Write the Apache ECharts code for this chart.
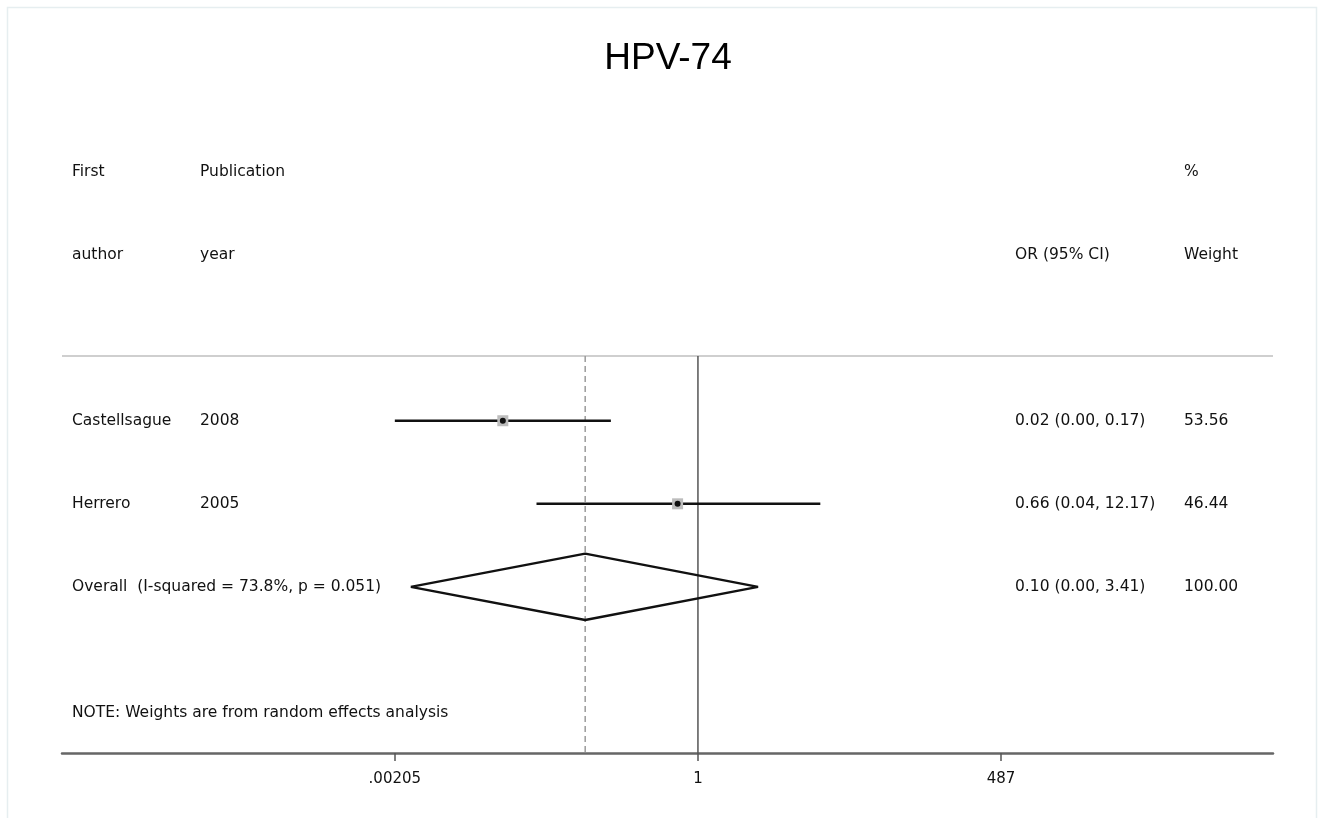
<!DOCTYPE html>
<html>
<head>
<meta charset="utf-8">
<title>HPV-74</title>
<script src="https://cdn.jsdelivr.net/npm/echarts@6/dist/echarts.min.js"></script>
<style>
  html, body { margin: 0; padding: 0; background: #fff; }
  #chart { width: 1322px; height: 818px; }
</style>
</head>
<body>
<div id="chart"></div>
<script>
// study rows
var authors = ["Castellsague", "Herrero"];
var years = ["2008", "2005"];
var orEst = [0.0186, 0.66];
var ciLow = [0.00205, 0.037];
var ciHigh = [0.169, 12.17];
var orText = ["0.02 (0.00, 0.17)", "0.66 (0.04, 12.17)"];
var weights = ["53.56", "46.44"];

// pooled estimate
var overallLabel = "Overall  (I-squared = 73.8%, p = 0.051)";
var overallEst = 0.10;
var overallLow = 0.00284;
var overallHigh = 3.41;
var overallText = "0.10 (0.00, 3.41)";
var overallWeight = "100.00";

// x axis ticks (odds ratio, log scale)
var tickValues = [0.00205, 1, 487];
var tickLabels = [".00205", "1", "487"];

var headerRow1 = ["First", "Publication", "", "%"];
var headerRow2 = ["author", "year", "OR (95% CI)", "Weight"];
var noteText = "NOTE: Weights are from random effects analysis";

// layout (pixel columns on the helper axis, rows on the y axis)
var colX = [72, 200, 1015, 1184];
var topLineY = 0.22;
var diamondHalf = 0.4;

var lg = function (v) { return Math.log10(v); };
var xMin = -5.64, xMax = 5.10;
var font = "DejaVu Sans";

var textSeries = function (items) {
  return {
    type: "scatter",
    xAxisIndex: 1,
    symbolSize: 0,
    silent: true,
    itemStyle: { opacity: 1 },
    data: items.map(function (it) { return { value: [it[0], it[1]], name: it[2] }; }),
    label: {
      show: true,
      position: "right",
      distance: 0,
      formatter: "{b}",
      color: "#111",
      fontFamily: font,
      fontSize: 15.5
    },
    z: 5
  };
};

var textItems = [];
headerRow1.forEach(function (t, i) { if (t) textItems.push([colX[i], -2, t]); });
headerRow2.forEach(function (t, i) { textItems.push([colX[i], -1, t]); });
authors.forEach(function (a, i) {
  textItems.push([colX[0], i + 1, a]);
  textItems.push([colX[1], i + 1, years[i]]);
  textItems.push([colX[2], i + 1, orText[i]]);
  textItems.push([colX[3], i + 1, weights[i]]);
});
var overallRow = authors.length + 1;
textItems.push([colX[0], overallRow, overallLabel]);
textItems.push([colX[2], overallRow, overallText]);
textItems.push([colX[3], overallRow, overallWeight]);
textItems.push([colX[0], 4.52, noteText]);

var series = [];
var lineSeries = function (pts, color, width, type, z) {
  return {
    type: "line",
    data: pts,
    symbol: "none",
    silent: true,
    lineStyle: { color: color, width: width, type: type || "solid" },
    z: z || 2
  };
};

// top rule
series.push(lineSeries([[xMin, topLineY], [xMax, topLineY]], "#cfcfcf", 2));
// null line at OR = 1
series.push(lineSeries([[lg(1), topLineY], [lg(1), 5]], "#555", 1.5, "solid", 3));
// dashed line at pooled estimate
series.push(lineSeries([[lg(overallEst), topLineY], [lg(overallEst), 5]], "#9a9a9a", 1.5, [6, 4], 3));

// confidence intervals
authors.forEach(function (a, i) {
  series.push(lineSeries([[lg(ciLow[i]), i + 1], [lg(ciHigh[i]), i + 1]], "#111", 2.5, "solid", 4));
});
// weight boxes and point estimates
series.push({
  type: "scatter",
  symbol: "rect",
  symbolSize: 11,
  silent: true,
  itemStyle: { color: "#bdbdbd", opacity: 1 },
  data: orEst.map(function (v, i) { return [lg(v), i + 1]; }),
  z: 5
});
series.push({
  type: "scatter",
  symbol: "circle",
  symbolSize: 6,
  silent: true,
  itemStyle: { color: "#111", opacity: 1 },
  data: orEst.map(function (v, i) { return [lg(v), i + 1]; }),
  z: 6
});
// pooled diamond
series.push(lineSeries([
  [lg(overallLow), overallRow],
  [lg(overallEst), overallRow - diamondHalf],
  [lg(overallHigh), overallRow],
  [lg(overallEst), overallRow + diamondHalf],
  [lg(overallLow), overallRow]
], "#111", 2.5, "solid", 4));

series.push(textSeries(textItems));

var chart = echarts.init(document.getElementById("chart"));
chart.setOption({
  backgroundColor: "#fff",
  animation: false,
  title: {
    text: "HPV-74",
    left: 663,
    textAlign: "center",
    top: 35,
    textStyle: { fontFamily: "Liberation Sans", fontSize: 37, fontWeight: "normal", color: "#000" }
  },
  graphic: [{
    type: "rect",
    shape: { x: 7.5, y: 7.5, width: 1309, height: 830 },
    style: { fill: "none", stroke: "#e6eef0", lineWidth: 1.5 },
    silent: true
  }],
  grid: { left: 62, right: 49, top: 130, bottom: 65 },
  xAxis: [{
    type: "value",
    position: "bottom",
    min: xMin,
    max: xMax,
    axisLine: { show: true, onZero: false, lineStyle: { color: "#666", width: 2.5 } },
    axisTick: {
      show: true,
      customValues: tickValues.map(lg),
      length: 8,
      lineStyle: { color: "#555", width: 1.5 }
    },
    axisLabel: {
      customValues: tickValues.map(lg),
      margin: 19,
      color: "#111",
      fontFamily: font,
      fontSize: 15,
      formatter: function (v) {
        for (var i = 0; i < tickValues.length; i++) {
          if (Math.abs(lg(tickValues[i]) - v) < 1e-6) return tickLabels[i];
        }
        return "";
      }
    },
    splitLine: { show: false }
  }, {
    type: "value",
    min: 62,
    max: 1273,
    show: false
  }],
  yAxis: {
    type: "value",
    min: -2.5,
    max: 5,
    inverse: true,
    show: false
  },
  series: series
});
</script>
</body>
</html>
